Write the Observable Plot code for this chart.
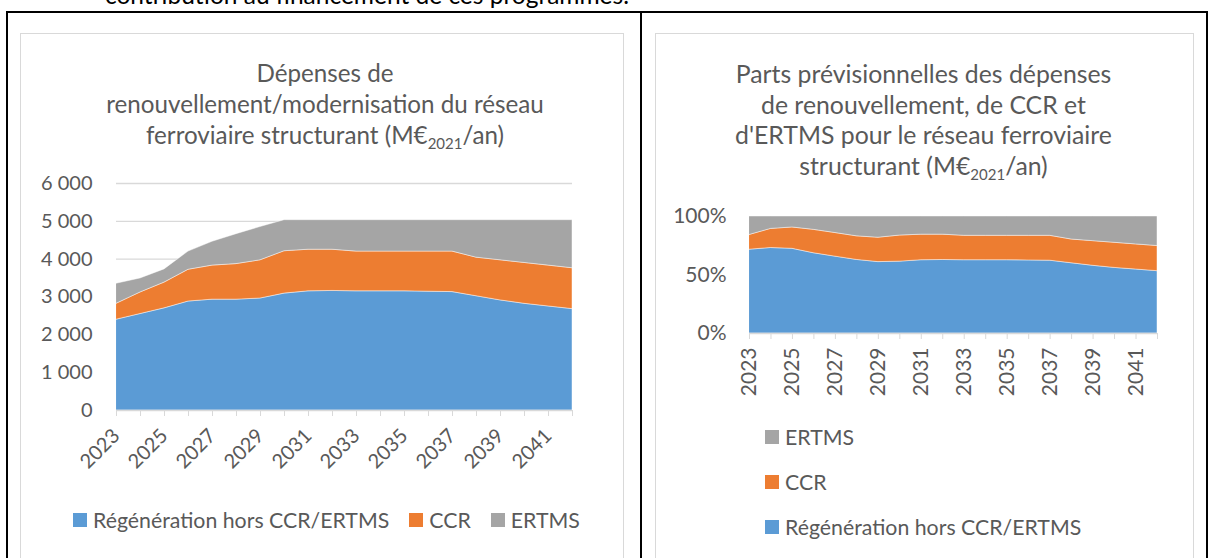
<!DOCTYPE html>
<html>
<head>
<meta charset="utf-8">
<script src="https://cdn.jsdelivr.net/npm/d3@7"></script>
<script src="https://cdn.jsdelivr.net/npm/@observablehq/plot@0.6"></script>
<style>
  html, body { margin: 0; padding: 0; background: #fff; }
  body { width: 1212px; height: 558px; overflow: hidden; position: relative;
         font-family: Lato, "Open Sans", sans-serif; color: #595959; }
  .abs { position: absolute; }
  .line { position: absolute; background: #000; }
  .box { position: absolute; border: 1px solid #d9d9d9; border-bottom: none; }
  .title { position: absolute; text-align: center; font-size: 24.2px; line-height: 31px; color: #595959; white-space: nowrap; }
  .sub { font-size: 15px; position: relative; top: 5px; }
  .leg { position: absolute; font-size: 21.3px; color: #595959; white-space: nowrap; display: flex; align-items: center; }
  .sw { width: 14px; height: 14px; display: inline-block; margin-right: 6px; }
  svg { overflow: visible; }
</style>
</head>
<body>
<div class="abs" style="left:105px;top:-17px;font-size:24.5px;line-height:24.5px;color:#000;white-space:nowrap;">contribution au financement de ces programmes.</div>
<div class="line" style="left:6px;top:11px;width:1202px;height:2px;"></div>
<div class="line" style="left:6px;top:11px;width:2px;height:547px;"></div>
<div class="line" style="left:640px;top:11px;width:2px;height:547px;"></div>
<div class="line" style="left:1206px;top:11px;width:2px;height:547px;"></div>
<div class="box" style="left:20px;top:33px;width:602px;height:530px;"></div>
<div class="box" style="left:655px;top:33px;width:537px;height:530px;"></div>

<div class="title" style="left:20px;width:610px;top:57px;">Dépenses de<br>renouvellement/modernisation du réseau<br>ferroviaire structurant (M€<span class="sub">2021</span>/an)</div>
<div class="title" style="left:655px;width:537px;top:59px;line-height:30.7px;font-size:24.8px;">Parts prévisionnelles des dépenses<br>de renouvellement, de CCR et<br>d'ERTMS pour le réseau ferroviaire<br>structurant (M€<span class="sub">2021</span>/an)</div>

<div id="left" class="abs" style="left:20px;top:170px;"></div>
<div id="right" class="abs" style="left:656px;top:205px;"></div>
<div id="legLeft" class="leg" style="left:73px;top:508px;height:24px;"></div>
<div id="legRight" class="abs" style="left:765px;top:425px;"></div>

<script>
// ---- data (M€2021 / an) ----
const years = [2023, 2024, 2025, 2026, 2027, 2028, 2029, 2030, 2031, 2032,
               2033, 2034, 2035, 2036, 2037, 2038, 2039, 2040, 2041, 2042];
const regeneration = [2400, 2550, 2700, 2880, 2930, 2930, 2960, 3090, 3150, 3160,
                      3150, 3150, 3150, 3140, 3130, 3020, 2910, 2820, 2750, 2680];
const ccr = [420, 570, 680, 840, 900, 940, 1010, 1120, 1100, 1090,
             1050, 1050, 1050, 1060, 1070, 1020, 1060, 1080, 1080, 1080];
const ertms = [530, 370, 350, 480, 630, 790, 880, 820, 780, 780,
               830, 830, 830, 830, 830, 990, 1060, 1130, 1200, 1270];
const seriesNames = ["Régénération hors CCR/ERTMS", "CCR", "ERTMS"];
const xTickLabels = [2023, 2025, 2027, 2029, 2031, 2033, 2035, 2037, 2039, 2041];
const yTicksLeft = [0, 1000, 2000, 3000, 4000, 5000, 6000];
const yTicksRight = [0, 0.5, 1];

const colors = ["#5B9BD5", "#ED7D31", "#A5A5A5"];
const seriesValues = [regeneration, ccr, ertms];

const rows = [];
seriesNames.forEach((s, i) => {
  years.forEach((y, j) => rows.push({year: y, series: s, value: seriesValues[i][j]}));
});

const fmtThousands = d => d3.format(",")(d).replace(/,/g, " ");
const xLabel = d => xTickLabels.includes(d) ? String(d) : "";

const baseStyle = {fontFamily: "Lato, 'Open Sans', sans-serif", fontSize: "20px", color: "#595959", background: "transparent", overflow: "visible"};

const left = Plot.plot({
  width: 602, height: 320,
  marginLeft: 96, marginRight: 50, marginTop: 13, marginBottom: 80,
  style: baseStyle,
  x: {domain: [2023, 2042], label: null},
  y: {domain: [0, 6000], label: null},
  color: {domain: seriesNames, range: colors},
  marks: [
    Plot.ruleY(yTicksLeft.filter(d => d > 0), {stroke: "#d9d9d9", strokeWidth: 1.3}),
    Plot.areaY(rows, {x: "year", y: "value", fill: "series", order: seriesNames,
                      stroke: "#ffffff", strokeOpacity: 0.45, strokeWidth: 1}),
    Plot.ruleY([0], {stroke: "#d9d9d9", strokeWidth: 1.3}),
    Plot.axisY({ticks: yTicksLeft, tickSize: 0, tickPadding: 24, tickFormat: fmtThousands, label: null}),
    Plot.axisX({ticks: years, tickSize: 6, stroke: "#d9d9d9", tickFormat: xLabel,
                tickRotate: -45, tickPadding: 16, fill: "#595959", label: null})
  ]
});
document.getElementById("left").appendChild(left);

const right = Plot.plot({
  width: 536, height: 200,
  marginLeft: 93, marginRight: 35, marginTop: 11, marginBottom: 72,
  style: {...baseStyle, fontSize: "21px"},
  x: {domain: [2023, 2042], label: null},
  y: {domain: [0, 1], label: null},
  color: {domain: seriesNames, range: colors},
  marks: [
    Plot.areaY(rows, {x: "year", y: "value", fill: "series", order: seriesNames, offset: "normalize",
                      stroke: "#ffffff", strokeOpacity: 0.45, strokeWidth: 1}),
    Plot.ruleY([0], {stroke: "#d9d9d9", strokeWidth: 1.3}),
    Plot.axisY({ticks: yTicksRight, tickSize: 0, tickPadding: 23, tickFormat: d3.format(".0%"), label: null}),
    Plot.axisX({ticks: years, tickSize: 6, stroke: "#d9d9d9", tickFormat: xLabel,
                tickRotate: -90, tickPadding: 8, fill: "#595959", label: null})
  ]
});
document.getElementById("right").appendChild(right);

// legends
const legLeft = document.getElementById("legLeft");
seriesNames.forEach((s, i) => {
  const item = document.createElement("span");
  item.style.display = "inline-flex";
  item.style.alignItems = "center";
  item.style.marginRight = "20px";
  item.innerHTML = `<span class="sw" style="background:${colors[i]}"></span>${s}`;
  legLeft.appendChild(item);
});
const legRight = document.getElementById("legRight");
seriesNames.slice().reverse().forEach((s, k) => {
  const i = seriesNames.length - 1 - k;
  const item = document.createElement("div");
  item.className = "leg";
  item.style.left = "0px";
  item.style.top = (k * 45) + "px";
  item.style.height = "24px";
  item.innerHTML = `<span class="sw" style="background:${colors[i]}"></span>${s}`;
  legRight.appendChild(item);
});
</script>
</body>
</html>
